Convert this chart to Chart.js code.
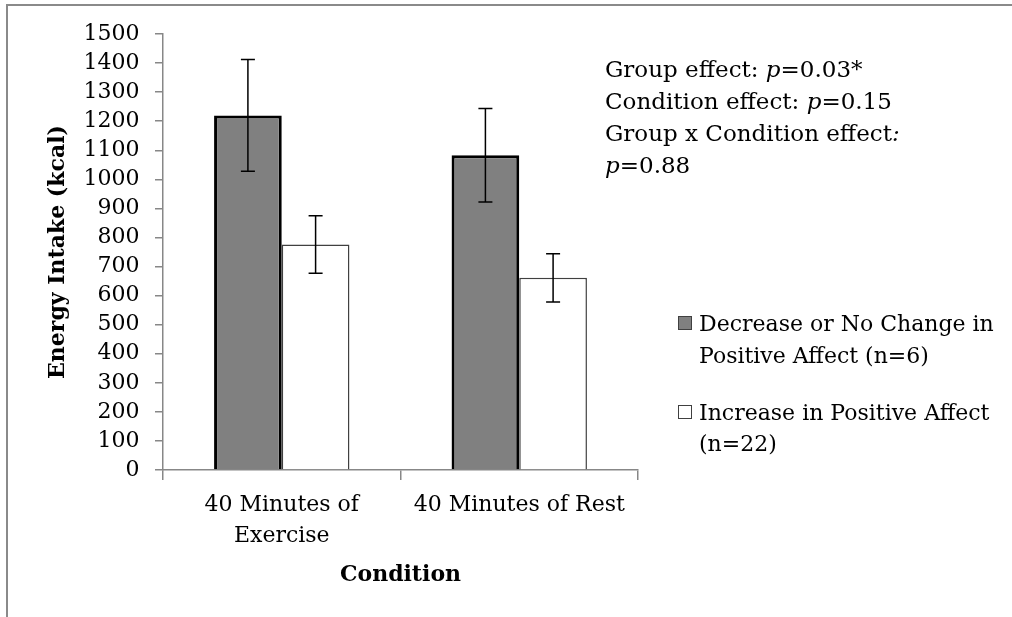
<!DOCTYPE html>
<html>
<head>
<meta charset="utf-8">
<script src="https://cdn.jsdelivr.net/npm/chart.js@4.4.1/dist/chart.umd.min.js"></script>
<style>
  html, body { margin: 0; padding: 0; background: #fff; }
  #wrap { width: 1012px; height: 617px; }
</style>
</head>
<body>
<div id="wrap"><canvas id="chart" width="1012" height="617"></canvas></div>
<script>
// data
const categories = [['40 Minutes of', 'Exercise'], '40 Minutes of Rest'];
const seriesNames = [
    ['Decrease or No Change in', 'Positive Affect (n=6)'],
    ['Increase in Positive Affect', '(n=22)']
];
const decreaseValues = [1220, 1083];
const decreaseErrors = [192, 161];
const increaseValues = [776, 661];
const increaseErrors = [99, 83];
const yMin = 0;
const yMax = 1500;
const yStep = 100;
// [text, italic] pieces per line
const notes = [
    [['Group effect: ', false], ['p', true], ['=0.03*', false]],
    [['Condition effect: ', false], ['p', true], ['=0.15', false]],
    [['Group x Condition effect', false], [':', true]],
    [['p', true], ['=0.88', false]]
];

const FONT = '"DejaVu Serif", serif';
const AXIS_GREY = '#878787';

const framePlugin = {
    id: 'frame',
    beforeDraw(chart) {
        const ctx = chart.ctx;
        ctx.save();
        ctx.strokeStyle = '#8a8a8a';
        ctx.lineWidth = 2;
        ctx.beginPath();
        ctx.moveTo(7, 617);
        ctx.lineTo(7, 5);
        ctx.lineTo(1012, 5);
        ctx.stroke();
        ctx.restore();
    }
};

const errorBarPlugin = {
    id: 'errorBars',
    afterDatasetsDraw(chart) {
        const ctx = chart.ctx;
        const y = chart.scales.y;
        ctx.save();
        ctx.strokeStyle = '#000';
        ctx.lineWidth = 1.5;
        chart.data.datasets.forEach((ds, i) => {
            const meta = chart.getDatasetMeta(i);
            meta.data.forEach((bar, j) => {
                const top = y.getPixelForValue(ds.data[j] + ds.errors[j]);
                const bottom = y.getPixelForValue(ds.data[j] - ds.errors[j]);
                ctx.beginPath();
                ctx.moveTo(bar.x, top);
                ctx.lineTo(bar.x, bottom);
                ctx.moveTo(bar.x - 7, top);
                ctx.lineTo(bar.x + 7, top);
                ctx.moveTo(bar.x - 7, bottom);
                ctx.lineTo(bar.x + 7, bottom);
                ctx.stroke();
            });
        });
        ctx.restore();
    }
};

const textPlugin = {
    id: 'notesAndLegend',
    afterDraw(chart) {
        const ctx = chart.ctx;
        ctx.save();
        ctx.fillStyle = '#000';
        ctx.textBaseline = 'alphabetic';
        ctx.textAlign = 'left';
        // stats notes, top right
        const noteY = [77, 109, 141, 173];
        notes.forEach((line, i) => {
            let x = 605;
            for (const [txt, italic] of line) {
                ctx.font = (italic ? 'italic ' : '') + '23px ' + FONT;
                ctx.fillText(txt, x, noteY[i]);
                x += ctx.measureText(txt).width;
            }
        });
        // legend
        const legendY = [[331, 363], [420, 451]];
        ctx.font = '22px ' + FONT;
        chart.data.datasets.forEach((ds, i) => {
            const base = legendY[i][0];
            ctx.fillStyle = ds.backgroundColor;
            ctx.fillRect(678.5, base - 14.5, 13, 13);
            ctx.strokeStyle = '#404040';
            ctx.lineWidth = 1;
            ctx.strokeRect(678.5, base - 14.5, 13, 13);
            ctx.fillStyle = '#000';
            seriesNames[i].forEach((t, k) => ctx.fillText(t, 699, legendY[i][k]));
        });
        ctx.restore();
    }
};

new Chart(document.getElementById('chart'), {
    type: 'bar',
    data: {
        labels: categories,
        datasets: [
            {
                label: seriesNames[0].join(' '),
                data: decreaseValues,
                errors: decreaseErrors,
                backgroundColor: '#808080',
                borderColor: '#000',
                borderWidth: 3,
                categoryPercentage: 0.57,
                barPercentage: 1
            },
            {
                label: seriesNames[1].join(' '),
                data: increaseValues,
                errors: increaseErrors,
                backgroundColor: '#ffffff',
                borderColor: '#404040',
                borderWidth: 1.5,
                categoryPercentage: 0.57,
                barPercentage: 1
            }
        ]
    },
    options: {
        responsive: false,
        devicePixelRatio: 1,
        animation: false,
        layout: { padding: { left: 8, top: 34, right: 374, bottom: 0 } },
        plugins: {
            legend: { display: false },
            tooltip: { enabled: false }
        },
        scales: {
            x: {
                afterFit(scale) { scale.height = 147; },
                grid: {
                    drawOnChartArea: false,
                    drawTicks: true,
                    tickLength: 10,
                    color: AXIS_GREY,
                    lineWidth: 1.5
                },
                border: { color: AXIS_GREY, width: 1.5 },
                ticks: {
                    color: '#000',
                    padding: 9.6,
                    maxRotation: 0,
                    autoSkip: false,
                    font: { family: FONT, size: 22, lineHeight: 1.4 }
                },
                title: {
                    display: true,
                    text: 'Condition',
                    color: '#000',
                    font: { family: FONT, size: 22, weight: 'bold' },
                    padding: { top: 0, bottom: 28.8 }
                }
            },
            y: {
                min: yMin,
                max: yMax,
                afterFit(scale) { scale.width = 155; },
                grid: {
                    drawOnChartArea: false,
                    drawTicks: true,
                    tickLength: 8,
                    color: AXIS_GREY,
                    lineWidth: 1.5
                },
                border: { color: AXIS_GREY, width: 1.5 },
                ticks: {
                    stepSize: yStep,
                    autoSkip: false,
                    color: '#000',
                    padding: 15.5,
                    font: { family: FONT, size: 22 },
                    callback: (v) => String(v)
                },
                title: {
                    display: true,
                    text: 'Energy Intake (kcal)',
                    color: '#000',
                    font: { family: FONT, size: 22, weight: 'bold' },
                    padding: { top: 37, bottom: 0 }
                }
            }
        }
    },
    plugins: [framePlugin, errorBarPlugin, textPlugin]
});
</script>
</body>
</html>
